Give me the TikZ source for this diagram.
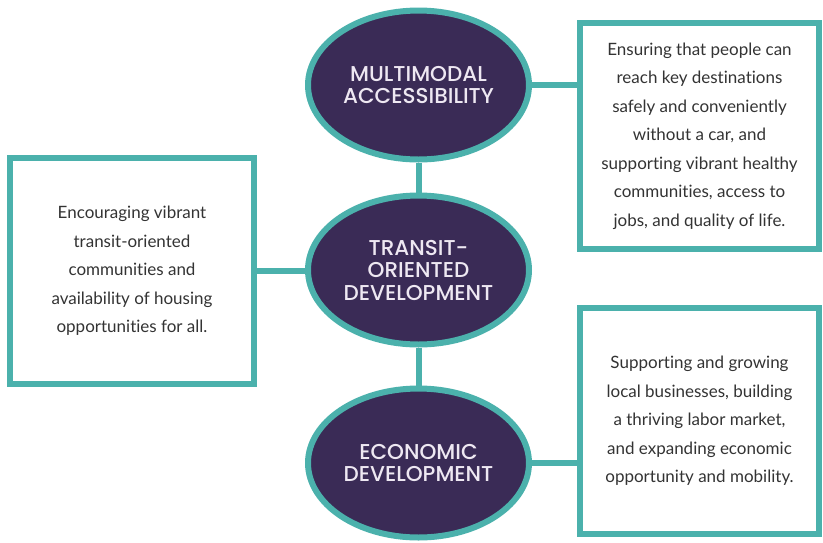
\documentclass[tikz,border=0pt]{standalone}
\usepackage{fontspec}
\setmainfont{Lato}[Ligatures={NoCommon,NoRare}]
\newfontfamily\titlefont{Poppins}[UprightFont=* Medium]
\usetikzlibrary{positioning,shapes.geometric}
\definecolor{tealline}{HTML}{4BB1AC}
\definecolor{goalpurple}{HTML}{3A2B56}
\definecolor{goaltext}{HTML}{EEE8F2}
\definecolor{bodytext}{HTML}{333333}

\begin{document}
\begin{tikzpicture}[x=1pt,y=-1pt,
	goal/.style={ellipse, draw=tealline, fill=goalpurple, line width=6pt,
		minimum width=221pt, minimum height=149pt, inner sep=0pt, align=center,
		text=goaltext, font=\titlefont\fontsize{21.5}{22.5}\selectfont},
	infobox/.style={rectangle, draw=tealline, line width=6pt, minimum height=226pt,
		inner sep=0pt, align=center, text=bodytext, font=\fontsize{17}{28.5}\selectfont},
	link/.style={draw=tealline, line width=6pt},
	node distance=30pt]
	\useasboundingbox (0,0) rectangle (823,542);
	
	% the three goals
	\node[goal] (access) at (418.5,85) {MULTIMODAL\\ACCESSIBILITY};
	\node[goal, below=30pt of access] (transit) {TRANSIT-\\ORIENTED\\DEVELOPMENT};
	\node[goal, below=38pt of transit] (economy) {ECONOMIC\\DEVELOPMENT};
	
	% the descriptions
	\node[infobox, minimum width=239pt] (accessbox) at (699.5,136)
		{Ensuring that people can\\reach key destinations\\safely and conveniently\\without a car, and\\supporting vibrant healthy\\communities, access to\\jobs, and quality of life.};
	\node[infobox, minimum width=244pt] (transitbox) at (132,271)
		{Encouraging vibrant\\transit-oriented\\communities and\\availability of housing\\opportunities for all.};
	\node[infobox, minimum width=239pt] (economybox) at (699.5,421)
		{Supporting and growing\\local businesses, building\\a thriving labor market,\\and expanding economic\\opportunity and mobility.};
	
	\draw[link] (access) -- (transit);
	\draw[link] (transit) -- (economy);
	\draw[link] (access.east) -- (access.east -| accessbox.west);
	\draw[link] (transitbox.east) -- (transitbox.east -| transit.west);
	\draw[link] (economy.east) -- (economy.east -| economybox.west);
\end{tikzpicture}
\end{document}
